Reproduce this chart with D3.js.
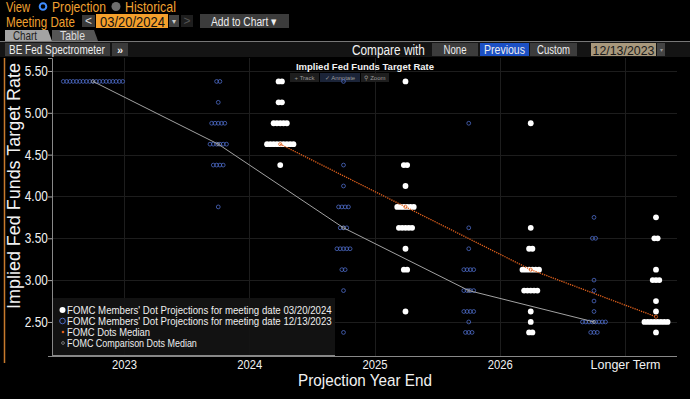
<!DOCTYPE html>
<html>
<head>
<meta charset="utf-8">
<script src="https://cdn.jsdelivr.net/npm/d3@7"></script>
<style>
  body { margin: 0; background: #000; }
  svg { display: block; font-family: "Liberation Sans", Arial, sans-serif; }
</style>
</head>
<body>
<div id="chart"></div>
<script>
// categories and ticks
var categories = ["2023", "2024", "2025", "2026", "Longer Term"];
var yTicks = [2.5, 3, 3.5, 4, 4.5, 5, 5.5];

// dots: [rate, number of participants], one list per category
var marchDots = [
  [],
  [[5.375, 2], [5.125, 2], [4.875, 5], [4.625, 9], [4.375, 1]],
  [[5.375, 1], [4.375, 2], [4.125, 1], [3.875, 6], [3.625, 5], [3.375, 1], [3.125, 2], [2.625, 1]],
  [[4.875, 1], [3.625, 1], [3.375, 2], [3.125, 6], [2.875, 5], [2.625, 1], [2.5, 1], [2.375, 2]],
  [[3.75, 1], [3.5, 2], [3.125, 1], [3.0, 3], [2.75, 1], [2.625, 1], [2.5, 8], [2.375, 1]]
];
var decemberDots = [
  [[5.375, 19]],
  [[5.375, 2], [5.125, 1], [4.875, 5], [4.625, 6], [4.375, 4], [3.875, 1]],
  [[5.375, 1], [4.375, 1], [4.125, 1], [3.875, 4], [3.625, 3], [3.375, 5], [3.125, 2], [2.875, 1], [2.375, 1]],
  [[4.875, 1], [3.625, 1], [3.375, 1], [3.125, 4], [2.875, 4], [2.625, 4], [2.5, 1], [2.375, 3]],
  [[3.75, 1], [3.5, 2], [3.0, 1], [2.875, 1], [2.75, 1], [2.625, 1], [2.5, 8], [2.375, 3]]
];

// medians
var marchMedian = [null, 4.625, 3.875, 3.125, 2.5625];
var decemberMedian = [5.375, 4.625, 3.625, 2.875, 2.5];

var legendLabels = [
  "FOMC Members' Dot Projections for meeting date 03/20/2024",
  "FOMC Members' Dot Projections for meeting date 12/13/2023",
  "FOMC Dots Median",
  "FOMC Comparison Dots Median"
];

var width = 690, height = 399;
var plotLeft = 52, plotRight = 677, plotTop = 58, plotBottom = 356;
var offset = 31, step = 3.3;

var svg = d3.select("#chart").append("svg")
    .attr("width", width)
    .attr("height", height);

svg.append("rect").attr("width", width).attr("height", height).attr("fill", "#000");

// terminal font is narrow: squeeze text horizontally to the width it has there
function squeezeX(node, len) {
  var w = node.getComputedTextLength();
  return w > 0 ? len / w : 1;
}

function label(g, txt, xPos, yPos, len, size, fill, anchor) {
  var t = g.append("text")
      .attr("fill", fill)
      .attr("font-size", size)
      .attr("text-anchor", anchor || "start")
      .text(txt);
  var s = squeezeX(t.node(), len);
  t.attr("transform", "translate(" + xPos + "," + yPos + ")scale(" + s + ",1)");
  return t;
}

// ---------- header ----------
var head = svg.append("g");
var orange = "#f0a030";

label(head, "View", 6, 11.5, 24, 14, orange);
head.append("circle").attr("cx", 43).attr("cy", 6.5).attr("r", 3.3)
    .attr("fill", "none").attr("stroke", "#3f8cff").attr("stroke-width", 2);
label(head, "Projection", 52, 11.5, 54, 14, orange);
head.append("circle").attr("cx", 116).attr("cy", 6.5).attr("r", 4.5).attr("fill", "#6e6e6e");
label(head, "Historical", 125, 11.5, 51, 14, orange);

label(head, "Meeting Date", 6, 26.5, 69, 14, orange);
head.append("rect").attr("x", 82).attr("y", 15).attr("width", 13).attr("height", 12).attr("fill", "#3a3a3a");
head.append("text").attr("x", 88.5).attr("y", 25).attr("text-anchor", "middle").attr("fill", "#ddd").attr("font-size", 12).text("<");
head.append("rect").attr("x", 96).attr("y", 14).attr("width", 72).attr("height", 14).attr("fill", "#f5a02c");
label(head, "03/20/2024", 100, 26.5, 65, 14.5, "#111");
head.append("rect").attr("x", 169).attr("y", 15).attr("width", 10).attr("height", 12).attr("fill", "#444");
head.append("text").attr("x", 174).attr("y", 24).attr("text-anchor", "middle").attr("fill", "#ccc").attr("font-size", 8).text("▾");
head.append("rect").attr("x", 181).attr("y", 15).attr("width", 12).attr("height", 12).attr("fill", "#1e1e1e");
head.append("text").attr("x", 187).attr("y", 25).attr("text-anchor", "middle").attr("fill", "#555").attr("font-size", 12).text(">");
head.append("rect").attr("x", 200).attr("y", 14).attr("width", 89).attr("height", 14).attr("fill", "#3c3c3c");
label(head, "Add to Chart ▾", 211, 25.5, 66, 12.5, "#eee");

// tabs
head.append("path").attr("d", "M5,41 L5,30 L48,30 L52,41 Z").attr("fill", "#a3a3a3");
label(head, "Chart", 13, 39.5, 24, 12, "#222");
head.append("path").attr("d", "M52,41 L52,30 L94,30 L98,41 Z").attr("fill", "#555");
label(head, "Table", 60, 39.5, 25, 12, "#ddd");

// toolbar
head.append("rect").attr("x", 0).attr("y", 41).attr("width", width).attr("height", 16).attr("fill", "#141414");
head.append("line").attr("x1", 0).attr("x2", width).attr("y1", 41.5).attr("y2", 41.5).attr("stroke", "#777");
head.append("rect").attr("x", 5).attr("y", 43).attr("width", 105).attr("height", 13).attr("fill", "#3a3a3a");
label(head, "BE Fed Spectrometer", 9, 53.5, 96, 12.5, "#eee");
head.append("rect").attr("x", 112).attr("y", 43).attr("width", 16).attr("height", 13).attr("fill", "#3a3a3a");
head.append("text").attr("x", 120).attr("y", 53.5).attr("text-anchor", "middle").attr("fill", "#eee").attr("font-size", 11).attr("font-weight", "bold").text("»");

label(head, "Compare with", 352, 54.5, 73, 15, "#f2f2f2");
var compareButtons = [
  {label: "None", x: 432, w: 46, tw: 23, fill: "#3c3c3c"},
  {label: "Previous", x: 480, w: 49, tw: 41, fill: "#1c50c4"},
  {label: "Custom", x: 530, w: 47, tw: 33, fill: "#3c3c3c"}
];
compareButtons.forEach(function(b) {
  head.append("rect").attr("x", b.x).attr("y", 43).attr("width", b.w).attr("height", 13).attr("fill", b.fill);
  label(head, b.label, b.x + b.w / 2, 54, b.tw, 13, "#eee", "middle");
});
head.append("rect").attr("x", 591).attr("y", 43).attr("width", 65).attr("height", 13).attr("fill", "#a8987c");
label(head, "12/13/2023", 592.5, 54.5, 62, 13.5, "#1a1a1a");
head.append("rect").attr("x", 657).attr("y", 43).attr("width", 8).attr("height", 13).attr("fill", "#444");
head.append("text").attr("x", 661).attr("y", 52).attr("text-anchor", "middle").attr("fill", "#999").attr("font-size", 6).text("▾");

// ---------- chart ----------
var x = d3.scalePoint()
    .domain(categories)
    .range([124, 625]);

var y = d3.scaleLinear()
    .domain([2.093, 5.655])
    .range([plotBottom, plotTop]);

// left orange marker line
svg.append("line").attr("x1", 4.5).attr("x2", 4.5).attr("y1", 58).attr("y2", 363)
    .attr("stroke", "#c77a2c").attr("stroke-width", 1.5);

// grid
var grid = svg.append("g");
grid.selectAll(".hgrid").data(yTicks).enter().append("line")
    .attr("x1", plotLeft).attr("x2", plotRight)
    .attr("y1", function(d) { return Math.round(y(d)) + 0.5; })
    .attr("y2", function(d) { return Math.round(y(d)) + 0.5; })
    .attr("stroke", "#1d1d1d");
grid.selectAll(".vgrid").data(categories).enter().append("line")
    .attr("x1", function(d) { return Math.round(x(d)) + 0.5; })
    .attr("x2", function(d) { return Math.round(x(d)) + 0.5; })
    .attr("y1", plotTop).attr("y2", plotBottom)
    .attr("stroke", "#1d1d1d");

// axes
var yAxis = svg.append("g")
    .attr("transform", "translate(" + plotLeft + ",0)")
    .call(d3.axisLeft(y).tickValues(yTicks).tickFormat(d3.format(".2f")).tickSize(4).tickPadding(1));
yAxis.select(".domain").attr("stroke", "#888");
yAxis.selectAll(".tick line").attr("stroke", "#aaa");
yAxis.selectAll(".tick text").attr("fill", "#f2f2f2").attr("font-size", 14)
    .attr("font-family", "Liberation Sans, Arial, sans-serif")
    .each(function() { d3.select(this).attr("transform", "scale(" + squeezeX(this, 23) + ",1)"); });

var xAxis = svg.append("g")
    .attr("transform", "translate(0," + plotBottom + ")")
    .call(d3.axisBottom(x).tickSize(0).tickPadding(3));
xAxis.select(".domain").attr("d", "M" + plotLeft + ",0.5H" + plotRight).attr("stroke", "#888");
xAxis.selectAll(".tick text").attr("fill", "#f2f2f2").attr("font-size", 13.5)
    .attr("font-family", "Liberation Sans, Arial, sans-serif")
    .each(function(d) {
      d3.select(this).attr("transform", "scale(" + squeezeX(this, d === "Longer Term" ? 70 : 25) + ",1)");
    });

var yTitle = svg.append("text")
    .attr("text-anchor", "middle")
    .attr("fill", "#f2f2f2").attr("font-size", 17.5)
    .text("Implied Fed Funds Target Rate");
yTitle.attr("transform", "translate(20,186)rotate(-90)scale(" + squeezeX(yTitle.node(), 246) + ",1)");

label(svg, "Projection Year End", 365, 386, 134, 16.5, "#f2f2f2", "middle");

// chart title and mini toolbar
svg.append("text").attr("x", 365).attr("y", 70).attr("text-anchor", "middle")
    .attr("fill", "#f2f2f2").attr("font-size", 9.5).attr("font-weight", "bold")
    .text("Implied Fed Funds Target Rate");
var mini = [
  {label: "+ Track", x: 290, w: 29, fill: "#1e1e1e"},
  {label: "\u2713 Annotate", x: 320, w: 40, fill: "#1b2438"},
  {label: "\u26B2 Zoom", x: 361, w: 28, fill: "#1e1e1e"}
];
mini.forEach(function(b) {
  svg.append("rect").attr("x", b.x).attr("y", 73).attr("width", b.w).attr("height", 9).attr("fill", b.fill);
  svg.append("text").attr("x", b.x + b.w / 2).attr("y", 80).attr("text-anchor", "middle")
      .attr("fill", "#9a9a9a").attr("font-size", 6).text(b.label);
});

// flatten dot rows into points
function rowPoints(lists, shift) {
  var pts = [];
  lists.forEach(function(rows, i) {
    rows.forEach(function(r) {
      var n = r[1];
      for (var k = 0; k < n; k++) {
        pts.push({cat: categories[i], rate: r[0], k: k - (n - 1) / 2, shift: shift});
      }
    });
  });
  return pts;
}

var decPts = rowPoints(decemberDots, -offset);
var marPts = rowPoints(marchDots, offset);

var median = d3.line()
    .defined(function(d) { return d.v != null; })
    .x(function(d) { return x(d.cat) + d.shift; })
    .y(function(d) { return y(d.v); });

var decMed = decemberMedian.map(function(v, i) { return {cat: categories[i], v: v, shift: -offset}; });
var marMed = marchMedian.map(function(v, i) { return {cat: categories[i], v: v, shift: offset}; });

svg.append("g").selectAll(".dec").data(decPts).enter().append("circle")
    .attr("cx", function(d) { return x(d.cat) + d.shift + d.k * step; })
    .attr("cy", function(d) { return y(d.rate); })
    .attr("r", 1.9)
    .attr("fill", "none")
    .attr("stroke", "#4d6bc6")
    .attr("stroke-width", 0.8);

svg.append("path").datum(decMed)
    .attr("d", median)
    .attr("fill", "none")
    .attr("stroke", "#a2a2a2")
    .attr("stroke-width", 1);

svg.append("g").selectAll(".mar").data(marPts).enter().append("circle")
    .attr("cx", function(d) { return x(d.cat) + d.shift + d.k * step; })
    .attr("cy", function(d) { return y(d.rate); })
    .attr("r", 2.9)
    .attr("fill", "#fff");

svg.append("path").datum(marMed)
    .attr("d", median)
    .attr("fill", "none")
    .attr("stroke", "#e0601c")
    .attr("stroke-width", 1.3)
    .attr("stroke-dasharray", "1.3,1");

svg.append("g").selectAll(".decm").data(decMed.filter(function(d) { return d.v != null; })).enter().append("circle")
    .attr("cx", function(d) { return x(d.cat) + d.shift; })
    .attr("cy", function(d) { return y(d.v); })
    .attr("r", 1.6).attr("fill", "none").attr("stroke", "#a2a2a2").attr("stroke-width", 0.7);
svg.append("g").selectAll(".marm").data(marMed.filter(function(d) { return d.v != null; })).enter().append("circle")
    .attr("cx", function(d) { return x(d.cat) + d.shift; })
    .attr("cy", function(d) { return y(d.v); })
    .attr("r", 1.6).attr("fill", "none").attr("stroke", "#e0601c").attr("stroke-width", 0.8);

// legend
var legend = svg.append("g");
legend.append("rect").attr("x", 53).attr("y", 298).attr("width", 282).attr("height", 57)
    .attr("fill", "#141414").attr("fill-opacity", 0.92);
legend.append("line").attr("x1", 53).attr("x2", 335).attr("y1", 355.5).attr("y2", 355.5).attr("stroke", "#888");
var legendLens = [265, 265, 83, 130];
legendLabels.forEach(function(t, i) {
  label(legend, t, 67, 313.5 + i * 11, legendLens[i], 10.5, "#eee");
});
legend.append("circle").attr("cx", 62.5).attr("cy", 310).attr("r", 3).attr("fill", "#fff");
legend.append("circle").attr("cx", 62.5).attr("cy", 321).attr("r", 2.8).attr("fill", "none").attr("stroke", "#4d6bc6");
legend.append("circle").attr("cx", 63).attr("cy", 332).attr("r", 1.3).attr("fill", "#e0601c");
legend.append("circle").attr("cx", 63).attr("cy", 343).attr("r", 1.4).attr("fill", "none").attr("stroke", "#9c9c9c").attr("stroke-width", 0.7);
</script>
</body>
</html>
